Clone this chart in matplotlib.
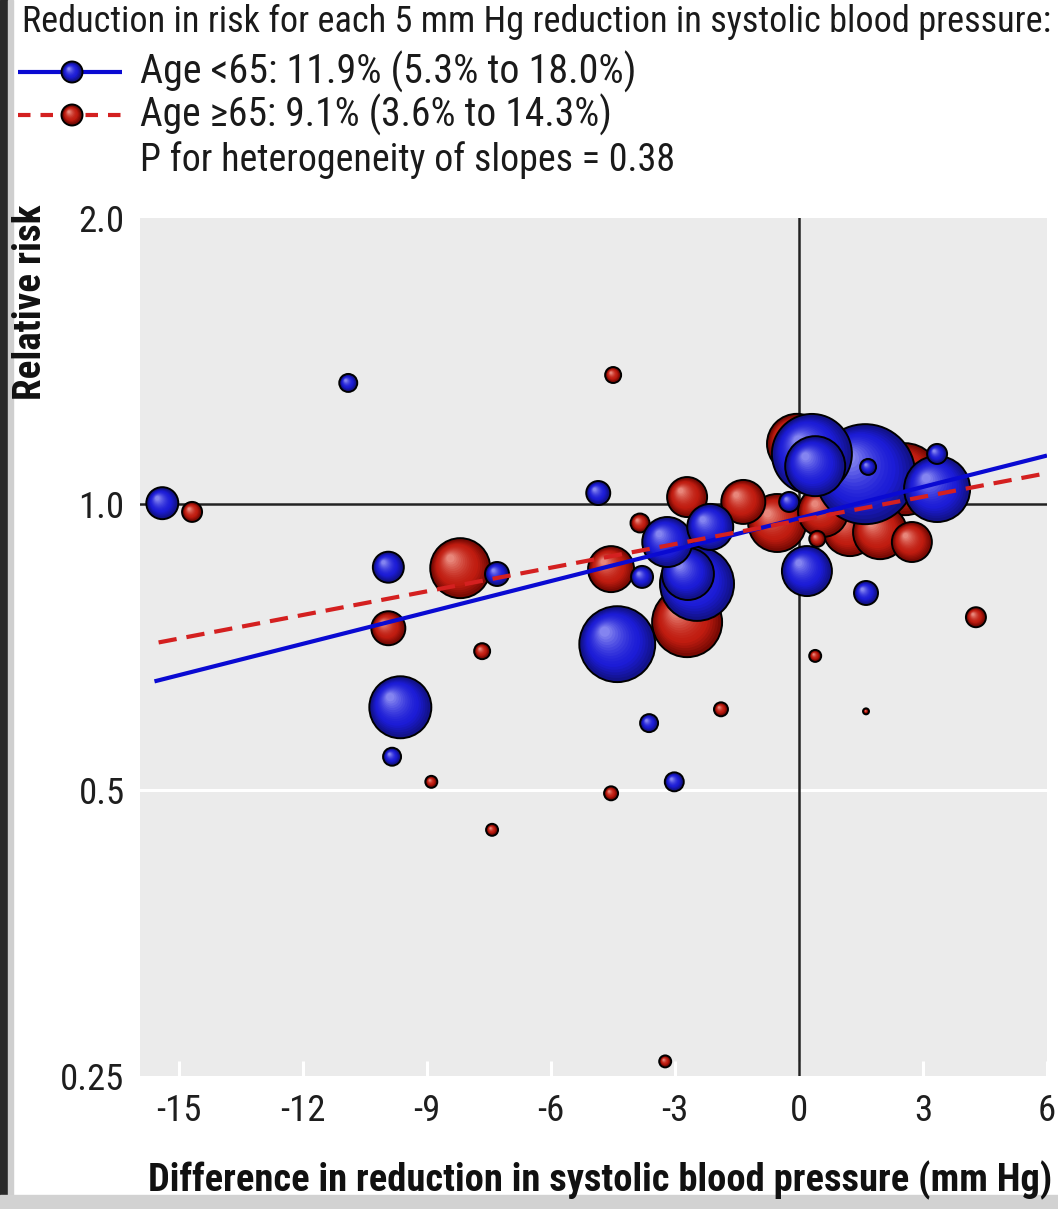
import numpy as np
import matplotlib
matplotlib.use("Agg")
import matplotlib.pyplot as plt
from matplotlib.patches import Rectangle
from matplotlib.colors import to_rgb
import logging

logging.getLogger("matplotlib.font_manager").setLevel(logging.ERROR)

W, H, DPI = 1058, 1209, 100

# Trials: difference in systolic reduction (mm Hg), relative risk, study weight
x_lt65 = [-15.41, -10.91, -9.94, -7.31, -9.65, -9.85, -4.86, -4.40, -3.63, -3.02,
          1.60, 0.31, 0.39, 3.34, -2.47, -2.69, -3.19, -2.15, -3.80, -0.24,
          0.19, 1.62, 1.67, 3.34]
rr_lt65 = [1.002, 1.341, 0.858, 0.844, 0.611, 0.542, 1.027, 0.712, 0.588, 0.510,
           1.075, 1.129, 1.096, 1.037, 0.824, 0.844, 0.912, 0.946, 0.838, 1.005,
           0.850, 0.806, 1.094, 1.129]
w_lt65 = [2.56, 0.81, 2.40, 1.44, 9.61, 0.81, 1.44, 14.4, 0.81, 0.90,
          25.0, 16.0, 9.0, 10.9, 13.7, 6.76, 6.25, 5.29, 1.21, 1.00,
          6.25, 1.44, 0.64, 1.00]

x_ge65 = [-8.20, -2.71, 2.56, -0.05, -0.53, 1.23, 1.96, 0.58, -4.55, -1.35,
          -2.71, 2.73, -9.94, -14.69, -3.85, 4.28, -7.67, -4.50, 0.44, -4.55,
          -1.89, -8.90, -7.43, -3.24, 0.39, 1.62]
rr_ge65 = [0.856, 0.751, 1.062, 1.157, 0.955, 0.941, 0.934, 0.981, 0.854, 1.005,
           1.017, 0.912, 0.740, 0.981, 0.955, 0.760, 0.700, 1.367, 0.919, 0.496,
           0.608, 0.510, 0.454, 0.259, 0.692, 0.605]
w_ge65 = [9.0, 12.25, 12.96, 9.0, 8.41, 7.29, 7.29, 6.25, 5.29, 4.84,
          4.0, 4.0, 2.89, 1.00, 0.90, 1.00, 0.64, 0.64, 0.64, 0.49,
          0.49, 0.36, 0.36, 0.36, 0.36, 0.09]

# Meta-regression: % risk reduction per 5 mm Hg, fitted RR at zero difference
reduction_lt65 = 11.9
reduction_ge65 = 9.1
rr0_lt65 = 0.966
rr0_ge65 = 0.961
xfit_lt65 = [-15.6, 6.0]
xfit_ge65 = [-15.5, 6.0]

xticks = [-15, -12, -9, -6, -3, 0, 3, 6]
yticks = [0.25, 0.5, 1.0, 2.0]
ytick_labels = ["0.25", "0.5", "1.0", "2.0"]

title = "Reduction in risk for each 5 mm Hg reduction in systolic blood pressure:"
label_lt65 = "Age <65: 11.9% (5.3% to 18.0%)"
label_ge65 = "Age \u226565: 9.1% (3.6% to 14.3%)"
label_p = "P for heterogeneity of slopes = 0.38"
xlabel = "Difference in reduction in systolic blood pressure (mm Hg)"
ylabel = "Relative risk"

FONT = ["Liberation Sans Narrow", "Roboto Condensed", "Roboto", "DejaVu Sans"]
plt.rcParams["font.family"] = FONT

BLUE = dict(dark="#12128a", base="#1c1cd6", light="#8484f0")
RED = dict(dark="#7a0a04", base="#c01c10", light="#e8867a")
PX_PER_UNIT_W = 10.0  # marker radius in pixels for weight 1


def mix(c1, c2, t):
    a, b = np.array(to_rgb(c1)), np.array(to_rgb(c2))
    return tuple(a + (b - a) * t)


def sphere_layers(ax, xs, ys, radii_px, pal, n=16):
    """Stack shaded discs so each marker reads as a lit sphere."""
    pts = ax.transData.transform(np.column_stack([xs, ys]))
    out_xy, sizes, cols, ecs, lws = [], [], [], [], []
    for (px, py), r in zip(pts, radii_px):
        out_xy.append((px, py))
        sizes.append((2 * r * 72 / DPI) ** 2)
        cols.append(to_rgb(pal["dark"]))
        ecs.append((0, 0, 0, 1))
        lws.append(1.4)
        rin = max(r - 1.4, 0.5)
        for k in range(1, n + 1):
            t = k / n
            rr = rin * (1 - 0.86 * t)
            cx = px - 0.34 * rin * t
            cy = py + 0.34 * rin * t
            if t < 0.3:
                c = mix(pal["dark"], pal["base"], t / 0.3)
            else:
                c = mix(pal["base"], pal["light"], ((t - 0.3) / 0.7) ** 1.6)
            out_xy.append((cx, cy))
            sizes.append((2 * rr * 72 / DPI) ** 2)
            cols.append(c)
            ecs.append((0, 0, 0, 0))
            lws.append(0.0)
    data_xy = ax.transData.inverted().transform(np.array(out_xy))
    ax.scatter(data_xy[:, 0], data_xy[:, 1], s=sizes, c=cols, edgecolors=ecs,
               linewidths=lws, zorder=3, clip_on=False)


fig = plt.figure(figsize=(W / DPI, H / DPI), dpi=DPI)
fig.patch.set_facecolor("white")
renderer = fig.canvas.get_renderer()


def fit_text(t, target, vertical=False):
    """Scale a text's font size so it spans the given number of pixels."""
    bb = t.get_window_extent(renderer)
    span = bb.height if vertical else bb.width
    t.set_fontsize(t.get_fontsize() * target / span)


L, R, T, B = 140, 1047, 218, 1076
ax = fig.add_axes([L / W, 1 - B / H, (R - L) / W, (B - T) / H])
ax.set_yscale("log")
ax.set_xlim(-15.95, 6)
ax.set_ylim(0.25, 2.0)
ax.set_facecolor("#ebebeb")
for s in ax.spines.values():
    s.set_visible(False)

ax.set_yticks(yticks)
ax.set_yticklabels(ytick_labels)
ax.yaxis.set_minor_locator(matplotlib.ticker.NullLocator())
ax.tick_params(axis="y", length=0, pad=11, labelsize=26.5, labelcolor="#1e1e1e")
ax.set_xticks(xticks)
ax.set_xticklabels([str(v) for v in xticks])
ax.tick_params(axis="x", direction="in", length=11, width=2.2, color="white",
               pad=12, labelsize=26.5, labelcolor="#1e1e1e")

ax.axhline(0.5, color="white", lw=2.2, zorder=1)
ax.axhline(1.0, color="#222222", lw=1.8, zorder=2)
ax.axvline(0.0, color="#222222", lw=1.8, zorder=2)

# Bubbles: older group first, younger group on top
sphere_layers(ax, x_ge65, rr_ge65, [PX_PER_UNIT_W * np.sqrt(w) for w in w_ge65], RED)
sphere_layers(ax, x_lt65, rr_lt65, [PX_PER_UNIT_W * np.sqrt(w) for w in w_lt65], BLUE)

# Fitted lines from the per-5 mm Hg reductions
b_lt65 = -np.log(1 - reduction_lt65 / 100) / 5
b_ge65 = -np.log(1 - reduction_ge65 / 100) / 5
xl = np.array(xfit_lt65)
xr = np.array(xfit_ge65)
ax.plot(xl, rr0_lt65 * np.exp(b_lt65 * xl), color="#0a0ad2", lw=3.0, zorder=5,
        solid_capstyle="butt")
ax.plot(xr, rr0_ge65 * np.exp(b_ge65 * xr), color="#d42020", lw=3.0, zorder=5,
        dashes=(4.4, 2.4), dash_capstyle="butt")

# Overlay in figure pixels for legend, titles and frame
ov = fig.add_axes([0, 0, 1, 1], zorder=10)
ov.set_xlim(0, W)
ov.set_ylim(H, 0)
ov.axis("off")
ov.patch.set_visible(False)

ov.add_patch(Rectangle((0, 0), 8, H, color="#2a2a2a", zorder=0))
ov.add_patch(Rectangle((8, 0), 5, H, color="#cfcfcf", zorder=0))
ov.add_patch(Rectangle((0, 1195), W, 14, color="#d2d2d2", zorder=0))

t_title = ov.text(22, 22, title, fontsize=22, ha="left", va="center", color="#1a1a1a")
fit_text(t_title, 1028)
ov.plot([18, 122], [72, 72], color="#0a0ad2", lw=3.0, solid_capstyle="butt")
ov.plot([18, 122], [115, 115], color="#d42020", lw=3.0, dashes=(3.0, 2.4),
        dash_capstyle="butt")
sphere_layers(ov, [72], [72], [10.5], BLUE, n=10)
sphere_layers(ov, [72], [115], [10.5], RED, n=10)
t1 = ov.text(140, 72, label_lt65, fontsize=22, ha="left", va="center", color="#1a1a1a")
t2 = ov.text(140, 115, label_ge65, fontsize=22, ha="left", va="center", color="#1a1a1a")
t3 = ov.text(140, 160, label_p, fontsize=22, ha="left", va="center", color="#1a1a1a")
fit_text(t1, 497)
fit_text(t2, 472)
fit_text(t3, 535)

t_x = ov.text(1052, 1180, xlabel, fontsize=22, fontweight="bold", ha="right",
              va="center", color="#111111")
fit_text(t_x, 902)
t_y = ov.text(31, 302, ylabel, fontsize=22, fontweight="bold", rotation=90,
              ha="center", va="center", color="#111111")
fit_text(t_y, 195, vertical=True)

fig.savefig("out.png", dpi=DPI)
